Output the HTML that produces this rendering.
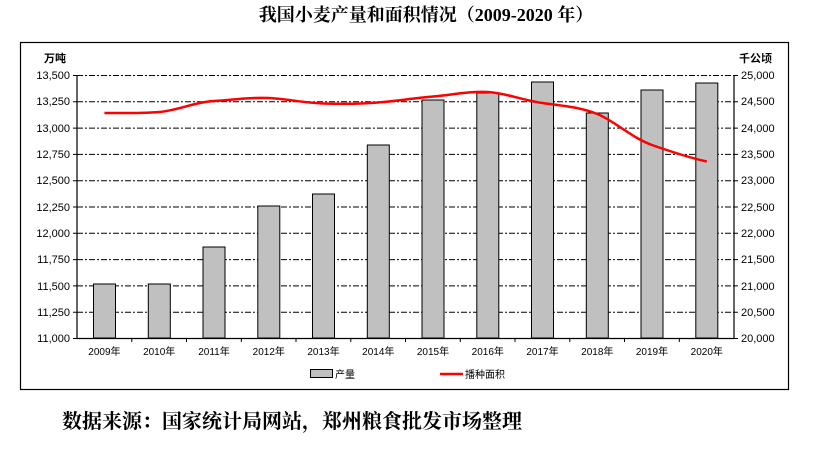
<!DOCTYPE html>
<html><head><meta charset="utf-8"><style>
body{margin:0;background:#fff;width:818px;height:450px;overflow:hidden}
svg text{font-family:"Liberation Sans","Noto Sans CJK SC",sans-serif}
</style></head><body>
<svg width="818" height="450" xmlns="http://www.w3.org/2000/svg">
<text x="426" y="21" text-anchor="middle" font-size="18" font-weight="bold" style="font-family:'Liberation Serif','Noto Serif CJK SC',serif">我国小麦产量和面积情况（2009-2020 年）</text>
<rect x="20.5" y="42.5" width="768" height="347" fill="none" stroke="#000" stroke-width="1.2"/>
<text x="44" y="62" font-size="11" font-weight="bold">万吨</text>
<text x="739" y="62" font-size="11" font-weight="bold">千公顷</text>
<g stroke="#000" stroke-width="1" stroke-dasharray="6,2,2,2">
<line x1="77" y1="75.5" x2="734" y2="75.5"/><line x1="77" y1="101.8" x2="734" y2="101.8"/><line x1="77" y1="128.1" x2="734" y2="128.1"/><line x1="77" y1="154.4" x2="734" y2="154.4"/><line x1="77" y1="180.7" x2="734" y2="180.7"/><line x1="77" y1="207" x2="734" y2="207"/><line x1="77" y1="233.3" x2="734" y2="233.3"/><line x1="77" y1="259.6" x2="734" y2="259.6"/><line x1="77" y1="285.9" x2="734" y2="285.9"/><line x1="77" y1="312.2" x2="734" y2="312.2"/>
</g>
<g fill="#c0c0c0" stroke="#000" stroke-width="1">
<rect x="93.5" y="284" width="22" height="54"/><rect x="148.3" y="284" width="22" height="54"/><rect x="203" y="247" width="22" height="91"/><rect x="257.8" y="206" width="22" height="132"/><rect x="312.5" y="194" width="22" height="144"/><rect x="367.3" y="145" width="22" height="193"/><rect x="422" y="100" width="22" height="238"/><rect x="476.8" y="93" width="22" height="245"/><rect x="531.5" y="82" width="22" height="256"/><rect x="586.3" y="113" width="22" height="225"/><rect x="641" y="90" width="22" height="248"/><rect x="695.8" y="83" width="22" height="255"/>
</g>
<g stroke="#000" stroke-width="1.2">
<line x1="77" y1="75" x2="77" y2="338.5"/><line x1="734" y1="75" x2="734" y2="338.5"/><line x1="77" y1="338.5" x2="734" y2="338.5"/>
</g>
<g stroke="#000" stroke-width="1">
<path d="M73 75.5h4M73 101.8h4M73 128.1h4M73 154.4h4M73 180.7h4M73 207h4M73 233.3h4M73 259.6h4M73 285.9h4M73 312.2h4M73 338.5h4"/>
<path d="M734 75.5h4M734 101.8h4M734 128.1h4M734 154.4h4M734 180.7h4M734 207h4M734 233.3h4M734 259.6h4M734 285.9h4M734 312.2h4M734 338.5h4"/>
<path d="M131.8 338v4M186.5 338v4M241.3 338v4M296 338v4M350.8 338v4M405.5 338v4M460.3 338v4M515 338v4M569.8 338v4M624.5 338v4M679.3 338v4"/>
</g>
<g font-size="11" text-anchor="end">
<text x="70" y="79">13,500</text><text x="70" y="105">13,250</text><text x="70" y="132">13,000</text><text x="70" y="158">12,750</text><text x="70" y="184">12,500</text><text x="70" y="211">12,250</text><text x="70" y="237">12,000</text><text x="70" y="263">11,750</text><text x="70" y="290">11,500</text><text x="70" y="316">11,250</text><text x="70" y="342">11,000</text>
</g>
<g font-size="11">
<text x="741" y="79">25,000</text><text x="741" y="105">24,500</text><text x="741" y="132">24,000</text><text x="741" y="158">23,500</text><text x="741" y="184">23,000</text><text x="741" y="211">22,500</text><text x="741" y="237">22,000</text><text x="741" y="263">21,500</text><text x="741" y="290">21,000</text><text x="741" y="316">20,500</text><text x="741" y="342">20,000</text>
</g>
<g font-size="10" text-anchor="middle">
<text x="104.4" y="355">2009年</text><text x="159.2" y="355">2010年</text><text x="214" y="355">2011年</text><text x="268.8" y="355">2012年</text><text x="323.5" y="355">2013年</text><text x="378.3" y="355">2014年</text><text x="433" y="355">2015年</text><text x="487.8" y="355">2016年</text><text x="542.5" y="355">2017年</text><text x="597.3" y="355">2018年</text><text x="652" y="355">2019年</text><text x="706.8" y="355">2020年</text>
</g>
<path d="M104.4 113 C 122 113,141 113.5,159.2 112 S 195 102,214 101 S 250 97,268.8 98 S 305 103,323.5 103.5 S 360 104,378.3 102.5 S 415 98,433 96.5 S 470 91,487.8 92 S 522 100,542.5 103 S 580 107,597.3 114 S 632 138,652 145 S 690 158,706.8 161.5" fill="none" stroke="#f00" stroke-width="2.5"/>
<rect x="310.5" y="369.5" width="22" height="8" fill="#c0c0c0" stroke="#000"/>
<text x="335" y="378" font-size="10">产量</text>
<line x1="440" y1="374" x2="463" y2="374" stroke="#f00" stroke-width="2.5"/>
<text x="465" y="378" font-size="10">播种面积</text>
<text x="62" y="428" font-size="20" font-weight="bold" style="font-family:'Liberation Serif','Noto Serif CJK SC',serif">数据来源：国家统计局网站，郑州粮食批发市场整理</text>
</svg>
</body></html>
